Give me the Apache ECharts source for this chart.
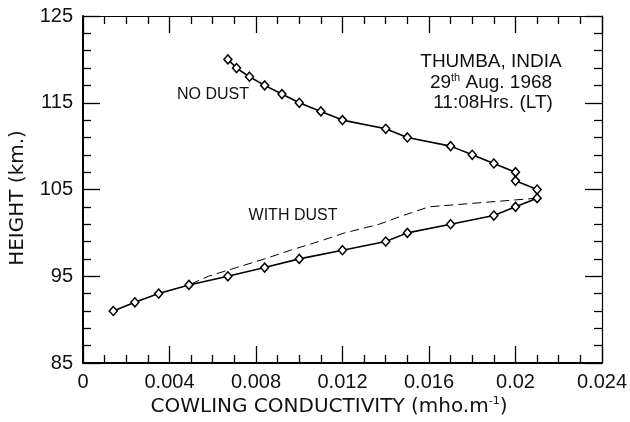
<!DOCTYPE html>
<html>
<head>
<meta charset="utf-8">
<script src="https://cdn.jsdelivr.net/npm/echarts@6/dist/echarts.min.js"></script>
<style>html,body{margin:0;padding:0;background:#fff}#c{width:630px;height:422px}</style>
</head>
<body>
<div id="c"></div>
<script>
// Height (km) for the no-dust profile
const heights = [120,119,118,117,116,115,114,113,112,111,110,109,108,107,106,105,104,103,102,101,100,99,98,97,96,95,94,93,92,91];
// Cowling conductivity (mho/m), no dust
const noDust = [0.0067,0.0071,0.0077,0.0084,0.0092,0.0100,0.0110,0.0120,0.0140,0.0150,0.0170,0.0180,0.0190,0.0200,0.0200,0.0210,0.0210,0.0200,0.0190,0.0170,0.0150,0.0140,0.0120,0.0100,0.0084,0.0067,0.0049,0.0035,0.0024,0.0014];
// With dust profile
const dustHeights = [104,103,102,101,100,99,98,97,96,95,94];
const withDust = [0.0210,0.0160,0.0148,0.0137,0.0121,0.0109,0.0096,0.0084,0.0071,0.0058,0.0049];
// Tick labels
const xTickLabels = ['0','0.004','0.008','0.012','0.016','0.02','0.024'];
const yTickLabels = ['85','95','105','115','125'];

const TXT = '#111';
const LIB = 'Liberation Sans, Arial, sans-serif';
const DJV = 'DejaVu Sans, sans-serif';

const chart = echarts.init(document.getElementById('c'));

function xAxisCfg(pos, labels) {
  return {
    type: 'value', position: pos, min: 0, max: 0.024, interval: 0.004,
    axisLine: {show: true, onZero: false, lineStyle: {color: '#000', width: pos === 'bottom' ? 2 : 1.2}},
    axisTick: {show: true, inside: true, length: 17, lineStyle: {color: '#000', width: 1.3}},
    minorTick: {show: true, splitNumber: 4, length: 8, lineStyle: {color: '#000', width: 1.3}},
    splitLine: {show: false}, minorSplitLine: {show: false},
    axisLabel: {show: labels, margin: 9, color: TXT, fontFamily: LIB, fontSize: 20,
      formatter: v => xTickLabels[Math.round(v / 0.004)]}
  };
}
function yAxisCfg(pos, labels) {
  return {
    type: 'value', position: pos, min: 85, max: 125, interval: 10,
    axisLine: {show: true, onZero: false, lineStyle: {color: '#000', width: pos === 'left' ? 2 : 1.2}},
    axisTick: {show: true, inside: true, length: 17, lineStyle: {color: '#000', width: 1.3}},
    minorTick: {show: true, splitNumber: 5, length: 8, lineStyle: {color: '#000', width: 1.3}},
    splitLine: {show: false}, minorSplitLine: {show: false},
    axisLabel: {show: labels, margin: 10, color: TXT, fontFamily: LIB, fontSize: 20,
      formatter: v => yTickLabels[Math.round((v - 85) / 10)]}
  };
}

chart.setOption({
  animation: false,
  backgroundColor: '#fff',
  grid: {left: 83, right: 27, top: 16, bottom: 59},
  xAxis: [xAxisCfg('bottom', true), xAxisCfg('top', false)],
  yAxis: [yAxisCfg('left', true), yAxisCfg('right', false)],
  series: [
    {
      type: 'line', name: 'WITH DUST', xAxisIndex: 0, yAxisIndex: 0,
      data: dustHeights.map((h, i) => [withDust[i], h]),
      showSymbol: false, symbol: 'none',
      lineStyle: {color: '#000', width: 1, type: [9, 5]}
    },
    {
      type: 'line', name: 'NO DUST', xAxisIndex: 0, yAxisIndex: 0,
      data: heights.map((h, i) => [noDust[i], h]),
      symbol: 'diamond', symbolSize: [8, 9],
      itemStyle: {color: '#fff', borderColor: '#000', borderWidth: 1.5},
      lineStyle: {color: '#000', width: 1.6}
    }
  ],
  graphic: [
    {type: 'text', x: 213, y: 95, style: {text: 'NO DUST', fill: TXT, font: '16px ' + LIB, align: 'center', verticalAlign: 'middle'}},
    {type: 'text', x: 293, y: 216, style: {text: 'WITH DUST', fill: TXT, font: '16px ' + LIB, align: 'center', verticalAlign: 'middle'}},
    {type: 'text', x: 491, y: 62, style: {text: 'THUMBA, INDIA', fill: TXT, font: '19px ' + LIB, align: 'center', verticalAlign: 'middle'}},
    {type: 'text', x: 491, y: 83, style: {
      text: '{n|29}{s|th}{n| Aug. 1968}', align: 'center', verticalAlign: 'middle',
      rich: {
        n: {fill: TXT, fontFamily: LIB, fontSize: 19, lineHeight: 21},
        s: {fill: TXT, fontFamily: LIB, fontSize: 11, lineHeight: 12, verticalAlign: 'top'}
      }}},
    {type: 'text', x: 493, y: 103, style: {text: '11:08Hrs. (LT)', fill: TXT, font: '19px ' + LIB, align: 'center', verticalAlign: 'middle'}},
    {type: 'text', x: 18, y: 198, rotation: Math.PI / 2, style: {text: 'HEIGHT (km.)', fill: TXT, font: '20px ' + DJV, align: 'center', verticalAlign: 'middle'}},
    {type: 'text', x: 329, y: 407, style: {
      text: '{n|COWLING CONDUCTIVITY (mho.m}{s|-1}{n|)}', align: 'center', verticalAlign: 'middle',
      rich: {
        n: {fill: TXT, fontFamily: DJV, fontSize: 20, lineHeight: 22},
        s: {fill: TXT, fontFamily: DJV, fontSize: 11, lineHeight: 12, verticalAlign: 'top'}
      }}}
  ]
});
</script>
</body>
</html>
